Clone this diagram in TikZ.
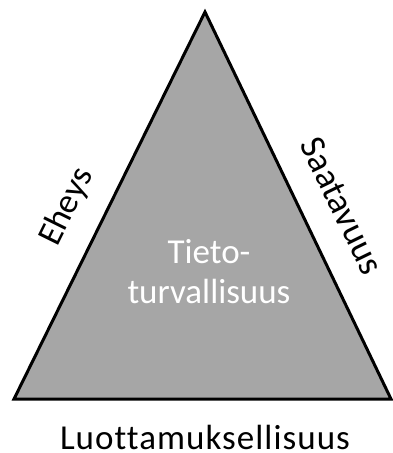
\documentclass[tikz,border=0pt]{standalone}
\usepackage{fontspec}
\setmainfont{Carlito}[Ligatures=NoCommon]
\definecolor{trifill}{RGB}{166,166,166}
\begin{document}
\begin{tikzpicture}[x=1pt,y=-1pt,
  label/.style={font=\fontsize{35}{40}\selectfont, text=black, inner sep=0pt},
  inner/.style={font=\fontsize{35}{40}\selectfont, text=white, inner sep=0pt, align=center}]
\useasboundingbox (0,0) rectangle (393,453);
\coordinate (top) at (205,12);
\coordinate (bl) at (14,399);
\coordinate (br) at (391,399);
\draw[line width=3pt, fill=trifill, line join=miter] (top) -- (bl) -- (br) -- cycle;
\node[label, rotate=63.7] (eheys) at (67,207) {Eheys};
\node[label, rotate=-64, font=\fontsize{36}{40}\selectfont] (saatavuus) at (342,206) {Saatavuus};
\node[inner] (tieto) at (209,272) {Tieto-\\turvallisuus};
\node[label, font=\fontsize{35}{40}\selectfont\addfontfeatures{LetterSpace=3}] (luott) at (205,437) {Luottamuksellisuus};
\end{tikzpicture}
\end{document}
